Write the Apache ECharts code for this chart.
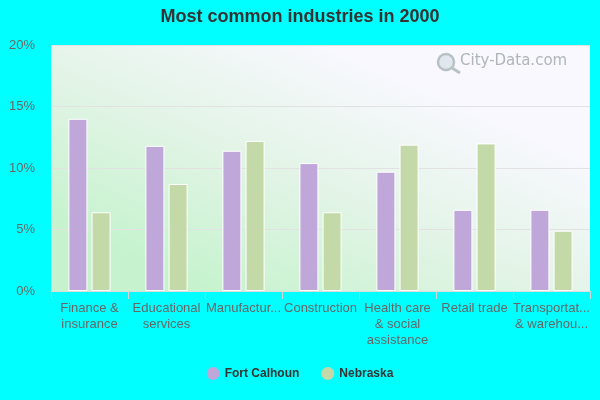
<!DOCTYPE html>
<html><head><meta charset="utf-8">
<script src="https://cdn.jsdelivr.net/npm/echarts@6/dist/echarts.min.js"></script>
<style>html,body{margin:0;padding:0;background:#00ffff;}#c{width:600px;height:400px;}</style>
</head><body><div id="c"></div>
<script>
const categories = ["Finance & insurance","Educational services","Manufacturing","Construction","Health care & social assistance","Retail trade","Transportation & warehousing"];
const tickLabels = ["Finance &\ninsurance","Educational\nservices","Manufactur...","Construction","Health care\n& social\nassistance","Retail trade","Transportat...\n& warehou..."];
const fortCalhoun = [14.0, 11.8, 11.4, 10.4, 9.7, 6.6, 6.6];
const nebraska = [6.4, 8.7, 12.2, 6.4, 11.9, 12.0, 4.9];
const yTicks = [0, 5, 10, 15, 20];

const chart = echarts.init(document.getElementById('c'), null, {renderer:'canvas'});
chart.setOption({
  backgroundColor: '#00ffff',
  animation: false,
  title: {text: 'Most common industries in 2000', left: 'center', top: 3,
    textStyle: {fontFamily: 'Liberation Sans, Arial', fontSize: 18, fontWeight: 'bold', color: '#333'}},
  grid: {left: 51, right: 10, top: 45, bottom: 109, show: true, borderWidth: 0,
    backgroundColor: {type: 'linear', x: 0.3, y: 1, x2: 0.5, y2: 0,
      colorStops: [{offset: 0, color: '#c6f3ce'}, {offset: 0.5, color: '#e2f4e6'}, {offset: 1, color: '#f8f8fe'}]}},
  legend: {bottom: 15, left: 'center', itemGap: 22, icon: 'circle', itemWidth: 13, itemHeight: 13,
    itemStyle: {borderWidth: 0},
    textStyle: {fontFamily: 'Liberation Sans, Arial', fontSize: 12, fontWeight: 'bold', color: '#333'}},
  xAxis: {type: 'category', data: categories,
    axisLine: {lineStyle: {color: '#dddddd'}},
    axisTick: {show: true, length: 8, lineStyle: {color: '#d4d4d4'}},
    axisLabel: {interval: 0, margin: 9, color: '#666', fontFamily: 'Liberation Sans, Arial', fontSize: 13, lineHeight: 16,
      formatter: (v, i) => tickLabels[i]}},
  yAxis: {type: 'value', min: 0, max: 20, interval: 5,
    axisLabel: {formatter: v => yTicks.includes(v) ? v + '%' : '', color: '#666', margin: 16, fontFamily: 'Liberation Sans, Arial', fontSize: 13},
    axisLine: {show: false}, axisTick: {show: false},
    splitLine: {lineStyle: {color: '#e2e2e2'}}},
  graphic: [
    {type: 'text', left: 460, top: 54, style: {text: 'City-Data.com', font: '15px DejaVu Sans, Verdana', fill: '#b0b5b9'}},
    {type: 'circle', shape: {cx: 446, cy: 62, r: 8}, style: {fill: 'rgba(200,215,220,0.5)', stroke: '#b8c2c6', lineWidth: 2.5}},
    {type: 'line', shape: {x1: 452, y1: 68, x2: 460, y2: 73}, style: {stroke: '#b8c2c6', lineWidth: 3}}
  ],
  series: [
    {name: 'Fort Calhoun', type: 'bar', data: fortCalhoun, barWidth: 19, barGap: '22%',
      itemStyle: {color: '#bfa8d9', borderColor: '#ffffff', borderWidth: 1}},
    {name: 'Nebraska', type: 'bar', data: nebraska, barWidth: 19,
      itemStyle: {color: '#c4d9a8', borderColor: '#ffffff', borderWidth: 1}}
  ]
});
</script></body></html>
